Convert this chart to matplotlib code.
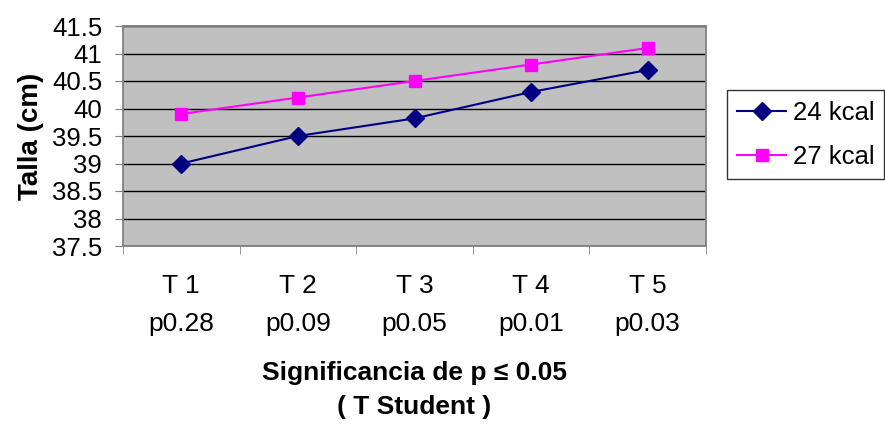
import numpy as np
import matplotlib.pyplot as plt
from matplotlib.ticker import FixedLocator

plt.rcParams['font.family'] = ['Liberation Sans', 'DejaVu Sans']

categorias = ['T 1\np0.28', 'T 2\np0.09', 'T 3\np0.05', 'T 4\np0.01', 'T 5\np0.03']
kcal24 = [39.0, 39.5, 39.82, 40.3, 40.7]
kcal27 = [39.9, 40.2, 40.5, 40.8, 41.1]

fig = plt.figure(figsize=(8.85, 4.26), dpi=100)
ax = fig.add_axes([123/885, 1-246/426, 583/885, 220/426])
ax.set_facecolor('#C0C0C0')

x = np.arange(1, len(categorias) + 1)
ax.plot(x, kcal24, color='#000080', marker='D', markersize=9, lw=1.5, label='24 kcal')
ax.plot(x, kcal27, color='#FF00FF', marker='s', markersize=8.5, lw=1.5, label='27 kcal')

ax.set_xlim(0.5, 5.5)
ax.set_ylim(37.5, 41.5)
yt = np.arange(37.5, 41.51, 0.5)
ax.set_yticks(yt)
ax.set_yticklabels(['%g' % v for v in yt], fontsize=18.5)
ax.yaxis.grid(True, color='black', lw=1)
ax.set_axisbelow(True)

ax.set_xticks(x)
ax.set_xticklabels(categorias, fontsize=19, linespacing=1.7)
ax.xaxis.set_minor_locator(FixedLocator(np.arange(0.5, 5.6, 1)))
ax.tick_params(axis='x', which='major', length=0, pad=20.5)
ax.tick_params(axis='x', which='minor', length=6, color='#808080', direction='out')
ax.tick_params(axis='y', length=6, color='#808080', direction='out', pad=9)

for s in ax.spines.values():
    s.set_color('#808080')
    s.set_linewidth(1.3)

ax.set_ylabel('Talla (cm)', fontsize=20, fontweight='bold', labelpad=6)
ax.set_xlabel('Significancia de p \u2264 0.05\n( T Student )', fontsize=19,
              fontweight='bold', labelpad=18, linespacing=1.55)

leg = ax.legend(loc='center left', bbox_to_anchor=(1.036, 0.505), fontsize=18.5,
                frameon=True, fancybox=False, edgecolor='black', handlelength=1.9,
                borderpad=0.4, labelspacing=0.8, handletextpad=0.25, borderaxespad=0)
leg.get_frame().set_linewidth(1)

fig.savefig('out.png', dpi=100)
